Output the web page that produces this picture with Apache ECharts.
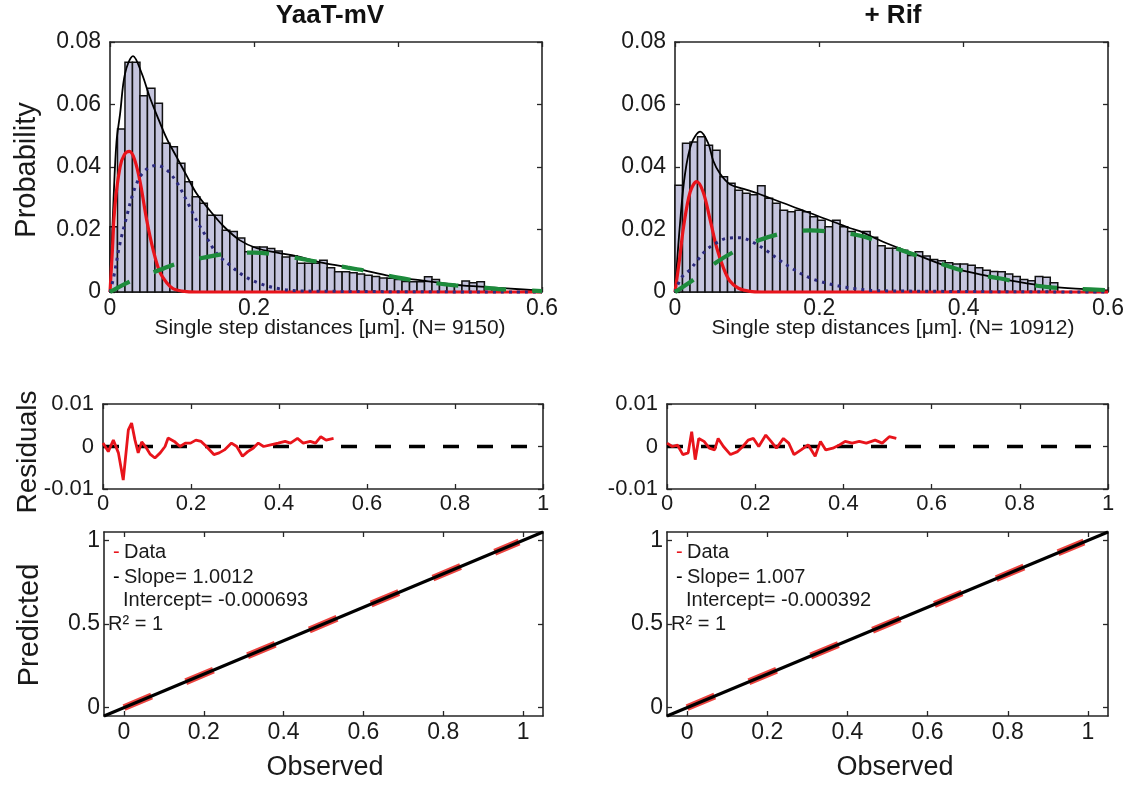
<!DOCTYPE html>
<html>
<head>
<meta charset="utf-8">
<script src="https://cdn.jsdelivr.net/npm/echarts@6/dist/echarts.min.js"></script>
<style>
html, body { margin: 0; padding: 0; background: #fff; }
#chart { width: 1133px; height: 787px; }
</style>
</head>
<body>
<div id="chart"></div>
<script>
// ---- data ----
const binWidth = 0.0104;
const histA = [0.0209, 0.0522, 0.0735, 0.0735, 0.0628, 0.0652, 0.0604, 0.0476, 0.0465, 0.0412,
    0.0353, 0.0305, 0.0284, 0.0246, 0.0246, 0.0198, 0.0194, 0.0173, 0.0129, 0.0144,
    0.0144, 0.0139, 0.0131, 0.0112, 0.0115, 0.0092, 0.0092, 0.0092, 0.0102, 0.0078,
    0.0065, 0.0065, 0.0062, 0.0058, 0.0054, 0.0050, 0.0045, 0.0044, 0.0040, 0.0034,
    0.0033, 0.0033, 0.0049, 0.0040, 0.0025, 0.0022, 0.0022, 0.0035, 0.0030, 0.0033, 0.0012];
const histB = [0.0342, 0.0476, 0.0480, 0.0497, 0.0470, 0.0454, 0.0369, 0.0348, 0.0326, 0.0316,
    0.0311, 0.0340, 0.0300, 0.0284, 0.0262, 0.0257, 0.0262, 0.0257, 0.0241, 0.0230,
    0.0209, 0.0230, 0.0209, 0.0194, 0.0183, 0.0194, 0.0175, 0.0148, 0.0140, 0.0140,
    0.0134, 0.0117, 0.0129, 0.0115, 0.0104, 0.0100, 0.0094, 0.0090, 0.0090, 0.0086,
    0.0078, 0.0070, 0.0066, 0.0065, 0.0058, 0.0050, 0.0040, 0.0036, 0.0050, 0.0047, 0.0030];

// fitted curves [x, probability]
const totalA = [[0, 0], [0.005, 0.030], [0.009, 0.048], [0.014, 0.057], [0.021, 0.070], [0.032, 0.0755],
    [0.044, 0.070], [0.055, 0.0625], [0.067, 0.0555], [0.079, 0.049], [0.093, 0.043], [0.107, 0.037],
    [0.12, 0.0316], [0.139, 0.026], [0.157, 0.0212], [0.18, 0.0166], [0.204, 0.014], [0.232, 0.0126],
    [0.259, 0.0115], [0.296, 0.0093], [0.343, 0.0074], [0.389, 0.0051], [0.435, 0.0036], [0.481, 0.0023],
    [0.528, 0.0015], [0.574, 0.0008], [0.6, 0.0004]];
const fastA = [[0, 0], [0.003, 0.012], [0.007, 0.028], [0.014, 0.040], [0.02, 0.044], [0.027, 0.045],
    [0.034, 0.0425], [0.042, 0.035], [0.051, 0.023], [0.06, 0.0134], [0.069, 0.0065], [0.079, 0.0029],
    [0.088, 0.001], [0.1, 0.0003], [0.12, 0], [0.6, 0]];
const midA = [[0, 0], [0.005, 0.0046], [0.014, 0.0157], [0.023, 0.024], [0.032, 0.0316], [0.042, 0.037],
    [0.053, 0.0397], [0.065, 0.0405], [0.079, 0.039], [0.093, 0.035], [0.107, 0.029], [0.12, 0.023],
    [0.134, 0.0176], [0.148, 0.0124], [0.167, 0.0085], [0.185, 0.0053], [0.208, 0.0027], [0.236, 0.001],
    [0.27, 0.0003], [0.6, 0]];
const slowA = [[0, 0], [0.03, 0.0036], [0.065, 0.0067], [0.095, 0.0092], [0.13, 0.011], [0.16, 0.0122],
    [0.2, 0.0126], [0.23, 0.0120], [0.28, 0.0100], [0.33, 0.0078], [0.36, 0.0066], [0.40, 0.0046],
    [0.43, 0.0035], [0.48, 0.0021], [0.51, 0.0016], [0.55, 0.0008], [0.6, 0.0003]];

const totalB = [[0, 0], [0.007, 0.022], [0.014, 0.038], [0.023, 0.0476], [0.035, 0.0513], [0.046, 0.0476],
    [0.053, 0.042], [0.062, 0.038], [0.076, 0.0345], [0.095, 0.033], [0.114, 0.0316], [0.132, 0.030],
    [0.151, 0.0284], [0.169, 0.0268], [0.188, 0.0252], [0.206, 0.0236], [0.225, 0.022], [0.243, 0.0204],
    [0.257, 0.0194], [0.289, 0.016], [0.336, 0.0118], [0.382, 0.0079], [0.428, 0.0054], [0.474, 0.0033],
    [0.52, 0.0017], [0.567, 0.0009], [0.6, 0.0005]];
const fastB = [[0, 0], [0.006, 0.010], [0.012, 0.021], [0.021, 0.032], [0.030, 0.0353], [0.039, 0.032],
    [0.049, 0.0228], [0.058, 0.014], [0.067, 0.0078], [0.076, 0.0035], [0.088, 0.0012], [0.104, 0.0002],
    [0.12, 0], [0.6, 0]];
const midB = [[0, 0], [0.009, 0.0046], [0.021, 0.0072], [0.032, 0.0104], [0.044, 0.0136], [0.058, 0.0158],
    [0.072, 0.0172], [0.09, 0.0174], [0.109, 0.0158], [0.127, 0.0132], [0.146, 0.0100], [0.164, 0.0073],
    [0.183, 0.0049], [0.201, 0.0034], [0.225, 0.002], [0.248, 0.0011], [0.28, 0.0004], [0.6, 0]];
const slowB = [[0, 0], [0.028, 0.0043], [0.058, 0.0096], [0.086, 0.0134], [0.118, 0.0167], [0.15, 0.0188],
    [0.188, 0.0197], [0.22, 0.0192], [0.257, 0.0180], [0.3, 0.0145], [0.35, 0.0105], [0.382, 0.0080],
    [0.419, 0.0056], [0.451, 0.0043], [0.488, 0.0025], [0.52, 0.0015], [0.56, 0.0010], [0.6, 0.0006]];

// residuals [x, residual]
const residA = [[0, 0.0008], [0.012, -0.0012], [0.0235, 0.0015], [0.035, -0.0015], [0.046, -0.0079],
    [0.0576, 0.0039], [0.065, 0.0055], [0.0727, 0.0015], [0.080, -0.0015], [0.088, 0.0011], [0.099, -0.0004],
    [0.107, -0.0018], [0.118, -0.0027], [0.13, -0.0015], [0.141, 0], [0.148, 0.002], [0.162, 0.0012],
    [0.175, 0], [0.187, 0.0008], [0.199, 0.0008], [0.211, 0.0015], [0.223, 0.0012], [0.235, 0],
    [0.252, -0.0019], [0.264, -0.0015], [0.276, -0.0008], [0.292, 0.0008], [0.304, 0], [0.317, -0.0023],
    [0.329, -0.0012], [0.341, -0.0004], [0.353, 0.0008], [0.365, 0], [0.381, 0.0004], [0.398, 0.0008],
    [0.414, 0.0012], [0.426, 0.0008], [0.442, 0.0019], [0.455, 0.0008], [0.471, 0.0012], [0.483, 0.0008],
    [0.495, 0.0023], [0.507, 0.0015], [0.524, 0.0019]];
const residB = [[0, 0.0008], [0.012, 0], [0.024, 0.0003], [0.036, -0.0019], [0.048, -0.0015], [0.056, 0.0035],
    [0.064, -0.0031], [0.072, 0.0019], [0.084, 0.0012], [0.096, -0.0004], [0.108, -0.0008], [0.116, 0.0019],
    [0.128, 0], [0.144, -0.0019], [0.16, -0.0012], [0.172, 0], [0.184, 0.0015], [0.196, 0.0019],
    [0.208, 0], [0.224, 0.0027], [0.236, 0.0012], [0.248, -0.0004], [0.264, 0.0019], [0.276, 0.0008],
    [0.288, -0.0019], [0.304, -0.0008], [0.32, 0.0004], [0.336, -0.0023], [0.348, 0.0012], [0.36, -0.0008],
    [0.376, -0.0004], [0.392, 0.0004], [0.404, 0.0012], [0.42, 0.0008], [0.436, 0.0012], [0.452, 0.0008],
    [0.472, 0.0015], [0.488, 0.0008], [0.504, 0.0023], [0.52, 0.0019]];
const zeroLine = [[0, 0], [1, 0]];

// observed vs predicted
const obsPredA = [[0, 0], [0.99, 0.99]];
const obsPredB = [[0, 0], [0.99, 0.99]];
const fitLineA = [[-0.05, -0.05], [1.05, 1.05]];
const fitLineB = [[-0.05, -0.05], [1.05, 1.05]];

const histXTicks = [0, 0.2, 0.4, 0.6];
const histYTicks = [0, 0.02, 0.04, 0.06, 0.08];
const resXTicks = [0, 0.2, 0.4, 0.6, 0.8, 1];
const resYTicks = [-0.01, 0, 0.01];
const predXTicks = [0, 0.2, 0.4, 0.6, 0.8, 1];
const predYTicks = [0, 0.5, 1];

const titles = ['YaaT-mV', '+ Rif'];
const xNames = ['Single step distances [\u03bcm]. (N= 9150)', 'Single step distances [\u03bcm]. (N= 10912)'];
const fitText = [
    ['Slope= 1.0012', 'Intercept= -0.000693', 'R\u00b2 = 1'],
    ['Slope= 1.007', 'Intercept= -0.000392', 'R\u00b2 = 1']
];

// ---- styling ----
const FONT = "'Liberation Sans', Arial, sans-serif";
const AX = '#262626';
const RED = '#e8141b';
const NAVY = '#2c2a7e';
const GREEN = '#1d8b3c';
const BAR = '#c5c5de';

const grids = [
    {left: 110, top: 42, width: 432, height: 250},
    {left: 675, top: 42, width: 433, height: 250},
    {left: 103, top: 404, width: 440, height: 85},
    {left: 667, top: 404, width: 441, height: 85},
    {left: 104, top: 532, width: 439, height: 184},
    {left: 667, top: 532, width: 441, height: 184}
];

function fmt(v) {
    return String(+(+v).toFixed(4));
}

function makeAxis(g, pos, range, ticks, fontSize, margin) {
    const main = pos === 'bottom' || pos === 'left';
    return {
        type: 'value', gridIndex: g, position: pos,
        min: range[0], max: range[1],
        axisLine: {show: true, onZero: false, lineStyle: {color: AX, width: 1.6}},
        axisTick: {show: true, inside: true, length: 5, customValues: ticks, lineStyle: {color: AX, width: 1.3}},
        axisLabel: {show: main, customValues: ticks, margin: margin, fontSize: fontSize,
            color: '#1a1a1a', fontFamily: FONT, formatter: fmt},
        splitLine: {show: false}
    };
}

const xAxes = [], yAxes = [];
const specs = [
    {x: [0, 0.6], xt: histXTicks, y: [0, 0.08], yt: histYTicks, fs: 23, xm: 5, ym: 9},
    {x: [0, 0.6], xt: histXTicks, y: [0, 0.08], yt: histYTicks, fs: 23, xm: 5, ym: 9},
    {x: [0, 1], xt: resXTicks, y: [-0.01, 0.01], yt: resYTicks, fs: 22, xm: 4, ym: 9},
    {x: [0, 1], xt: resXTicks, y: [-0.01, 0.01], yt: resYTicks, fs: 22, xm: 4, ym: 9},
    {x: [-0.05, 1.05], xt: predXTicks, y: [-0.05, 1.05], yt: predYTicks, fs: 23, xm: 5, ym: 4},
    {x: [-0.05, 1.05], xt: predXTicks, y: [-0.05, 1.05], yt: predYTicks, fs: 23, xm: 5, ym: 4}
];
specs.forEach(function (s, g) {
    xAxes.push(makeAxis(g, 'bottom', s.x, s.xt, s.fs, s.xm));
    xAxes.push(makeAxis(g, 'top', s.x, s.xt, s.fs, s.xm));
    yAxes.push(makeAxis(g, 'left', s.y, s.yt, s.fs, s.ym));
    yAxes.push(makeAxis(g, 'right', s.y, s.yt, s.fs, s.ym));
});

function histRender(params, api) {
    const p0 = api.coord([api.value(0), 0]);
    const p1 = api.coord([api.value(1), api.value(2)]);
    return {
        type: 'rect',
        shape: {x: p0[0], y: p1[1], width: p1[0] - p0[0], height: p0[1] - p1[1]},
        style: {fill: BAR, stroke: '#111', lineWidth: 1.5}
    };
}

function line(g, data, color, width, type, smooth) {
    return {
        type: 'line', xAxisIndex: 2 * g, yAxisIndex: 2 * g,
        data: data, symbol: 'none', smooth: smooth, clip: false, silent: true,
        lineStyle: {color: color, width: width, type: type, cap: 'butt'}
    };
}

const series = [];
[[histA, totalA, fastA, midA, slowA], [histB, totalB, fastB, midB, slowB]].forEach(function (set, g) {
    series.push({
        type: 'custom', xAxisIndex: 2 * g, yAxisIndex: 2 * g,
        renderItem: histRender,
        encode: {x: [0, 1], y: 2},
        data: set[0].map(function (v, i) { return [i * binWidth, (i + 1) * binWidth, v]; })
    });
    series.push(line(g, set[1], '#000', 1.8, 'solid', 0.35));
    series.push(line(g, set[2], RED, 3.2, 'solid', 0.35));
    series.push(line(g, set[3], NAVY, 3, [3, 5], 0.35));
    series.push(line(g, set[4], GREEN, 4.2, [22, 26], 0.35));
});
[residA, residB].forEach(function (d, i) {
    const g = 2 + i;
    series.push(line(g, zeroLine, '#000', 3.6, [16, 18], false));
    series.push(line(g, d, RED, 2.8, 'solid', false));
});
[[obsPredA, fitLineA], [obsPredB, fitLineB]].forEach(function (set, i) {
    const g = 4 + i;
    series.push(line(g, set[0], 'rgba(232,35,31,0.85)', 7, [30, 37], false));
    series.push(line(g, set[1], '#000', 3, 'solid', false));
});

function txt(x, y, text, size, opts) {
    opts = opts || {};
    return {
        type: 'text', x: x, y: y, rotation: opts.rot || 0, silent: true, z: 100,
        style: {
            text: text, fontSize: size, fontFamily: FONT, fontWeight: opts.bold ? 'bold' : 'normal',
            fill: opts.color || '#1a1a1a',
            textAlign: opts.align || 'center', align: opts.align || 'center',
            textVerticalAlign: 'middle', verticalAlign: 'middle'
        }
    };
}

const graphics = [
    txt(330, 16, titles[0], 26, {bold: true, color: '#111'}),
    txt(893, 16, titles[1], 26, {bold: true, color: '#111'}),
    txt(330, 328, xNames[0], 21),
    txt(893, 328, xNames[1], 21),
    txt(27, 170, 'Probability', 29, {rot: Math.PI / 2}),
    txt(28, 452, 'Residuals', 28, {rot: Math.PI / 2}),
    txt(30, 625, 'Predicted', 29, {rot: Math.PI / 2}),
    txt(325, 768, 'Observed', 27),
    txt(895, 768, 'Observed', 27)
];
[[104, fitText[0]], [667, fitText[1]]].forEach(function (p) {
    const L = p[0], t = p[1];
    graphics.push(txt(L + 9, 552, '-', 20, {align: 'left', color: RED}));
    graphics.push(txt(L + 20, 552, 'Data', 20, {align: 'left'}));
    graphics.push(txt(L + 9, 577, '-', 20, {align: 'left', color: '#000'}));
    graphics.push(txt(L + 20, 577, t[0], 20, {align: 'left'}));
    graphics.push(txt(L + 19, 600, t[1], 20, {align: 'left'}));
    graphics.push(txt(L + 4, 624, t[2], 20, {align: 'left'}));
});

const chart = echarts.init(document.getElementById('chart'), null, {renderer: 'canvas'});
chart.setOption({
    animation: false,
    backgroundColor: '#fff',
    grid: grids,
    xAxis: xAxes,
    yAxis: yAxes,
    series: series,
    graphic: graphics
});
</script>
</body>
</html>
